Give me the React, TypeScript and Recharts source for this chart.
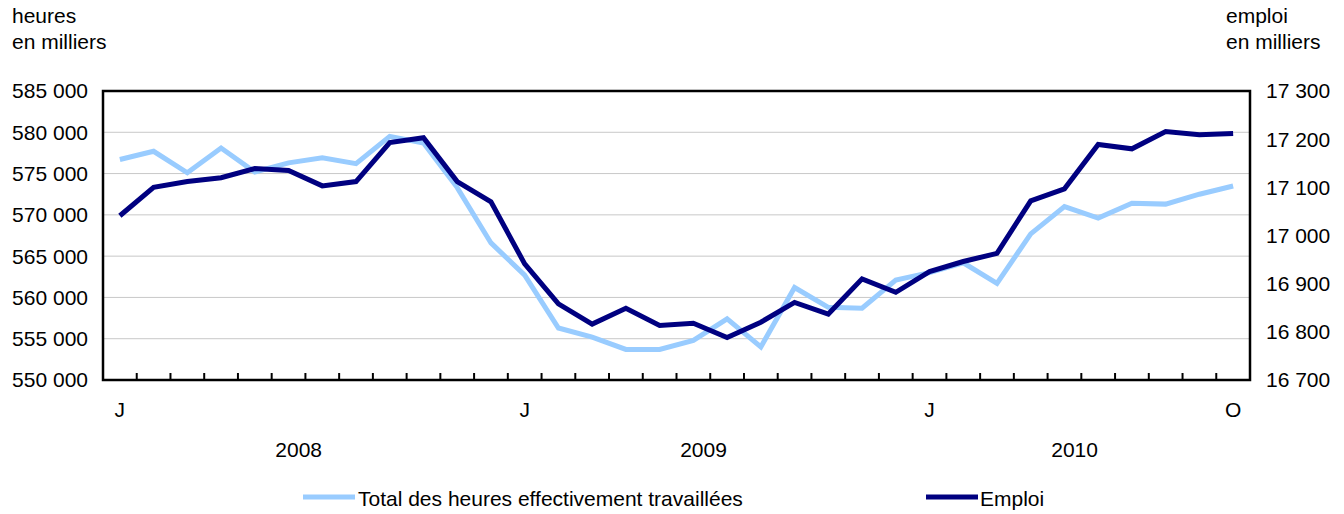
import React from "react";
import { LineChart, Line, XAxis, YAxis, CartesianGrid, ReferenceArea } from "recharts";

// Mois de janvier 2008 à octobre 2010
const months = [
  "J", "F", "M", "A", "M", "J", "J", "A", "S", "O", "N", "D",
  "J", "F", "M", "A", "M", "J", "J", "A", "S", "O", "N", "D",
  "J", "F", "M", "A", "M", "J", "J", "A", "S", "O",
];
const years = ["2008", "2009", "2010"];
const yearStart = [0, 12, 24];
const yearLength = [12, 12, 10];

// Total des heures effectivement travaillées (milliers)
const hours = [
  576700, 577700, 575100, 578100, 575200, 576300, 576900, 576200, 579500, 578700, 573300, 566600,
  562700, 556300, 555200, 553700, 553700, 554800, 557400, 554000, 561200, 558800, 558700, 562100,
  563000, 564200, 561700, 567700, 571000, 569600, 571400, 571300, 572500, 573500,
];

// Emploi (milliers)
const emploi = [
  17041, 17100, 17112, 17120, 17139, 17135, 17103, 17112, 17193, 17203, 17112, 17070,
  16941, 16858, 16816, 16849, 16813, 16818, 16788, 16820, 16861, 16837, 16910, 16882,
  16925, 16946, 16963, 17072, 17097, 17189, 17180, 17216, 17209, 17212,
];

const leftTicks = [550000, 555000, 560000, 565000, 570000, 575000, 580000, 585000];
const rightTicks = [16700, 16800, 16900, 17000, 17100, 17200, 17300];
const shownMonths = [0, 12, 24, 33];

const FONT = '"Liberation Sans", Arial, Helvetica, sans-serif';
const LIGHT = "#99ccff";
const DARK = "#000080";

const data = months.map((m, i) => ({ x: i + 0.5, month: m, hours: hours[i], emploi: emploi[i] }));

// positions des étiquettes sur l'axe des x
const monthTickPos = shownMonths.map((i) => i + 0.5);
const yearTickPos = yearStart.map((s, i) => s + yearLength[i] / 2 - 0.2);
const boundaryTicks = months.slice(1).map((_, i) => i + 1);
const xTicks = [...boundaryTicks, ...monthTickPos, ...yearTickPos];

const fmt = (v: number) => String(v).replace(/\B(?=(\d{3})+(?!\d))/g, " ");

const XTick = (props: any) => {
  const { x, y, payload } = props;
  const v = payload.value;
  if (Number.isInteger(v)) {
    return <line x1={x} x2={x} y1={y - 7} y2={y} stroke="#000" strokeWidth={2} />;
  }
  const yi = yearTickPos.indexOf(v);
  if (yi >= 0) {
    return (
      <text x={x} y={y + 77} textAnchor="middle" fontSize={21} fontFamily={FONT} fill="#000">
        {years[yi]}
      </text>
    );
  }
  return (
    <text x={x} y={y + 37} textAnchor="middle" fontSize={21} fontFamily={FONT} fill="#000">
      {months[Math.floor(v)]}
    </text>
  );
};

export default function App() {
  const tickStyle = { fontSize: 21, fill: "#000", fontFamily: FONT };
  return (
    <div style={{ position: "absolute", left: 0, top: 0, width: 1344, height: 514, background: "#fff" }}>
      <LineChart width={1344} height={514} data={data} margin={{ top: 91, right: 0, bottom: 0, left: 0 }}>
        <CartesianGrid yAxisId="left" vertical={false} stroke="#c8c8c8" strokeWidth={1} />
        <XAxis
          dataKey="x"
          type="number"
          domain={[0, 34]}
          ticks={xTicks}
          interval={0}
          height={134}
          axisLine={false}
          tickLine={false}
          tickSize={0}
          tickMargin={0}
          tick={<XTick />}
        />
        <YAxis
          yAxisId="left"
          domain={[550000, 585000]}
          ticks={leftTicks}
          width={103}
          axisLine={false}
          tickLine={false}
          tickSize={0}
          tickMargin={15}
          tickFormatter={fmt}
          tick={tickStyle}
          interval={0}
        />
        <YAxis
          yAxisId="right"
          orientation="right"
          domain={[16700, 17300]}
          ticks={rightTicks}
          width={94}
          axisLine={false}
          tickLine={false}
          tickSize={0}
          tickMargin={16}
          tickFormatter={fmt}
          tick={tickStyle}
          interval={0}
        />
        <Line
          yAxisId="left"
          type="linear"
          dataKey="hours"
          stroke={LIGHT}
          strokeWidth={5}
          dot={false}
          isAnimationActive={false}
        />
        <Line
          yAxisId="right"
          type="linear"
          dataKey="emploi"
          stroke={DARK}
          strokeWidth={5}
          dot={false}
          isAnimationActive={false}
        />
        <ReferenceArea
          yAxisId="left"
          x1={0}
          x2={34}
          y1={550000}
          y2={585000}
          fill="none"
          stroke="#000"
          strokeWidth={2.5}
        />
      </LineChart>
      <svg
        width={1344}
        height={514}
        style={{ position: "absolute", left: 0, top: 0, pointerEvents: "none" }}
        fontFamily={FONT}
        fontSize={21}
      >
        <text x={12} y={23}>heures</text>
        <text x={12} y={49}>en milliers</text>
        <text x={1226} y={23}>emploi</text>
        <text x={1226} y={49}>en milliers</text>
        <line x1={303} x2={355} y1={497} y2={497} stroke={LIGHT} strokeWidth={5} />
        <text x={358} y={506}>Total des heures effectivement travaillées</text>
        <line x1={926} x2={978} y1={497} y2={497} stroke={DARK} strokeWidth={5} />
        <text x={980} y={506}>Emploi</text>
      </svg>
    </div>
  );
}
